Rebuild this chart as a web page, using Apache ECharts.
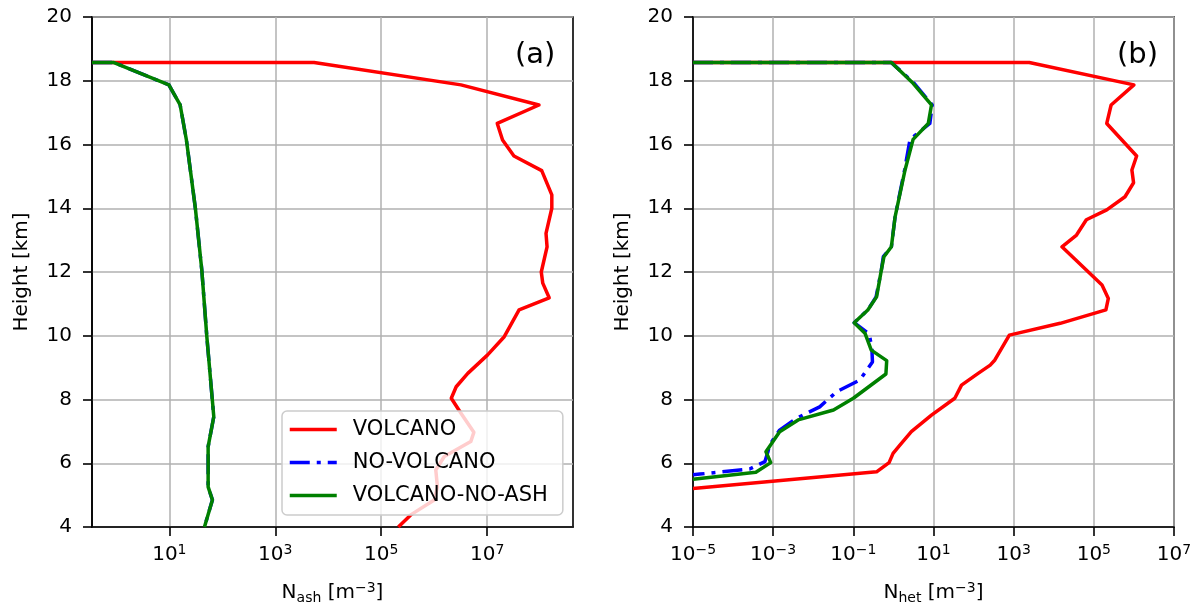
<!DOCTYPE html>
<html><head><meta charset="utf-8">
<script src="https://cdn.jsdelivr.net/npm/echarts@6/dist/echarts.min.js"></script>
<style>html,body{margin:0;padding:0;background:#fff}#c{width:1199px;height:610px}</style>
</head><body><div id="c"></div>
<script>
// ---- data (values in m^-3, heights in km); 0 = below the axis (clipped to the left edge)
const seriesNames = ['VOLCANO', 'NO-VOLCANO', 'VOLCANO-NO-ASH'];
const heightTicks = [4, 6, 8, 10, 12, 14, 16, 18, 20];
const xTickExpA = [1, 3, 5, 7];
const xTickExpB = [-5, -3, -1, 1, 3, 5, 7];

// Panel (a): N_ash
const aVolcanoH = [18.57, 18.57, 17.87, 17.24, 16.66, 16.14, 15.64, 15.18, 14.42, 14.0, 13.21, 12.79, 12.0, 11.65, 11.19, 10.81, 9.97, 9.40, 8.82, 8.40, 8.04, 7.57, 6.97, 6.68, 6.21, 5.79, 5.26, 4.85, 4.38, 4.0];
const aVolcanoX = [0, 5.4e3, 3.2e6, 9.5e7, 1.55e7, 1.95e7, 3.2e7, 1.07e8, 1.66e8, 1.66e8, 1.29e8, 1.35e8, 1.05e8, 1.12e8, 1.48e8, 4.0e7, 2.1e7, 1.02e7, 4.3e6, 2.6e6, 2.1e6, 3.2e6, 5.6e6, 4.9e6, 1.55e6, 1.07e6, 1.15e6, 1.0e6, 3.6e5, 2.1e5];
const aNoVolcanoH = [18.57, 18.57, 17.87, 17.24, 16.14, 14.0, 12.06, 9.97, 7.46, 6.52, 5.26, 4.85, 4.0];
const aNoVolcanoX = [0, 0.9, 9.8, 16, 21, 31, 41, 51, 69, 54, 54, 65, 46];
const aNoAshH = [18.57, 18.57, 17.87, 17.24, 16.14, 14.0, 12.06, 9.97, 7.46, 6.52, 5.26, 4.85, 4.0];
const aNoAshX = [0, 0.9, 9.8, 16, 21, 31, 41, 51, 69, 54, 54, 65, 46];

// Panel (b): N_het
const bVolcanoH = [18.57, 18.57, 17.87, 17.24, 16.66, 15.64, 15.20, 14.80, 14.36, 13.95, 13.64, 13.16, 12.79, 11.59, 11.17, 10.81, 10.39, 10.02, 9.24, 9.08, 8.82, 8.45, 8.04, 7.51, 6.99, 6.57, 6.31, 6.02, 5.73, 5.21];
const bVolcanoX = [0, 2.45e3, 1.0e6, 2.7e5, 2.1e5, 1.17e6, 8.9e5, 9.8e5, 6.0e5, 2.1e5, 6.5e4, 3.7e4, 1.6e4, 1.6e5, 2.3e5, 2.0e5, 1.45e4, 7.8e2, 3.4e2, 2.6e2, 1.3e2, 50, 34, 8.9, 2.8, 1.45, 0.98, 0.78, 0.38, 1e-5];
const bNoVolcanoH = [18.57, 18.57, 17.92, 17.24, 16.66, 16.16, 15.2, 13.73, 12.79, 12.48, 12.06, 11.22, 10.81, 10.41, 10.05, 9.6, 9.18, 8.61, 8.24, 7.77, 7.41, 7.04, 6.57, 6.36, 6.05, 5.82, 5.66, 5.64];
const bNoVolcanoX = [0, 0.89, 3.3, 9.3, 8.1, 2.6, 1.9, 1.1, 0.89, 0.56, 0.5, 0.37, 0.23, 0.105, 0.25, 0.29, 0.30, 0.145, 0.038, 0.0145, 3.8e-3, 1.45e-3, 8.1e-4, 7.4e-4, 6.2e-4, 2.6e-4, 1.5e-5, 1e-5];
const bNoAshH = [18.57, 18.57, 17.92, 17.24, 16.66, 16.16, 15.2, 13.73, 12.79, 12.48, 12.06, 11.22, 10.81, 10.41, 10.08, 9.55, 9.22, 8.80, 8.04, 7.67, 7.36, 6.99, 6.36, 6.02, 5.72, 5.50];
const bNoAshX = [0, 0.89, 3.1, 8.9, 7.4, 3.1, 1.95, 1.1, 0.89, 0.58, 0.5, 0.38, 0.23, 0.105, 0.195, 0.28, 0.68, 0.65, 0.1, 0.032, 4.2e-3, 1.45e-3, 6.6e-4, 8.7e-4, 3.7e-4, 1e-5];

// ---- chart
const FONT = 'DejaVu Sans';
const X_EXT = [[-0.46, 8.62], [-5, 7]];
const COLORS = {'VOLCANO': '#ff0000', 'NO-VOLCANO': '#0000ff', 'VOLCANO-NO-ASH': '#008000'};
const LTYPE = {'VOLCANO': 'solid', 'NO-VOLCANO': [20, 7, 4, 7], 'VOLCANO-NO-ASH': 'solid'};
const LW = 3.5;

function toPairs(xs, hs, panel) {
  return xs.map((v, i) => [v > 0 ? Math.log10(v) : X_EXT[panel][0], hs[i]]);
}
function expStr(v) { const n = Math.round(v); return n < 0 ? '\u2212' + (-n) : String(n); }

const tickRich = {
  b: {fontSize: 20, fontFamily: FONT, color: '#000', lineHeight: 24},
  s: {fontSize: 14, fontFamily: FONT, color: '#000', lineHeight: 14, verticalAlign: 'top'}
};
const nameRich = {
  n: {fontSize: 20, fontFamily: FONT, color: '#000', lineHeight: 24},
  sub: {fontSize: 14, fontFamily: FONT, color: '#000', lineHeight: 14, verticalAlign: 'bottom'},
  sup: {fontSize: 14, fontFamily: FONT, color: '#000', lineHeight: 14, verticalAlign: 'top'}
};

function xAxisCfg(panel, ticks, sub) {
  return {
    type: 'value', gridIndex: panel, min: X_EXT[panel][0], max: X_EXT[panel][1],
    axisLine: {show: true, onZero: false, lineStyle: {color: '#000', width: 1.6}},
    axisTick: {show: true, customValues: ticks, length: 9, lineStyle: {color: '#000', width: 1.6}},
    axisLabel: {customValues: ticks, margin: 16, formatter: v => '{b|10}{s|' + expStr(v) + '}', rich: tickRich},
    splitLine: {show: true, lineStyle: {color: '#b0b0b0', width: 1.5}},
    name: '{n|N}{sub|' + sub + '}{n| [m}{sup|\u22123}{n|]}', nameLocation: 'middle', nameGap: 54,
    nameTextStyle: {rich: nameRich}
  };
}
function yAxisCfg(panel) {
  return {
    type: 'value', gridIndex: panel, min: 4, max: 20, interval: 2,
    axisLine: {show: true, onZero: false, lineStyle: {color: '#000', width: 1.6}},
    axisTick: {show: true, length: 9, lineStyle: {color: '#000', width: 1.6}},
    axisLabel: {margin: 20, fontSize: 20, fontFamily: FONT, color: '#000',
      customValues: heightTicks, formatter: v => String(v)},
    splitLine: {show: true, lineStyle: {color: '#b0b0b0', width: 1.5}},
    name: 'Height [km]', nameLocation: 'middle', nameGap: 60,
    nameTextStyle: {fontSize: 20, fontFamily: FONT, color: '#000'}
  };
}
function lineSeries(name, panel, xs, hs) {
  return {
    name: name, type: 'line', xAxisIndex: panel, yAxisIndex: panel,
    data: toPairs(xs, hs, panel), symbol: 'none', showSymbol: false, clip: true,
    lineStyle: {color: COLORS[name], width: LW, type: LTYPE[name], cap: 'butt', join: 'round'},
    itemStyle: {color: COLORS[name]}, emphasis: {disabled: true}
  };
}

const option = {
  animation: false,
  backgroundColor: '#fff',
  title: [
    {text: '(a)', left: 515, top: 41, padding: 0, textStyle: {fontSize: 29, fontWeight: 'normal', fontFamily: FONT, color: '#000'}},
    {text: '(b)', left: 1117, top: 41, padding: 0, textStyle: {fontSize: 29, fontWeight: 'normal', fontFamily: FONT, color: '#000'}}
  ],
  grid: [
    {left: 92, top: 17, width: 481, height: 510, show: true, borderColor: '#000', borderWidth: 1.6, backgroundColor: 'transparent'},
    {left: 693, top: 17, width: 481, height: 510, show: true, borderColor: '#000', borderWidth: 1.6, backgroundColor: 'transparent'}
  ],
  xAxis: [xAxisCfg(0, xTickExpA, 'ash'), xAxisCfg(1, xTickExpB, 'het')],
  yAxis: [yAxisCfg(0), yAxisCfg(1)],
  legend: {
    data: seriesNames, orient: 'vertical', left: 282, top: 411,
    padding: [8, 15, 9, 6], itemWidth: 47, itemHeight: 21, itemGap: 12,
    backgroundColor: 'rgba(255,255,255,0.8)', borderColor: '#cccccc', borderWidth: 1.5, borderRadius: 5,
    itemStyle: {opacity: 0},
    lineStyle: {width: LW},
    formatter: n => '{t|' + n + '}',
    textStyle: {rich: {t: {fontSize: 21, fontFamily: FONT, color: '#000', lineHeight: 21, padding: [0, 0, 0, 11]}}},
    selectedMode: false
  },
  series: [
    lineSeries('VOLCANO', 0, aVolcanoX, aVolcanoH),
    lineSeries('NO-VOLCANO', 0, aNoVolcanoX, aNoVolcanoH),
    lineSeries('VOLCANO-NO-ASH', 0, aNoAshX, aNoAshH),
    lineSeries('VOLCANO', 1, bVolcanoX, bVolcanoH),
    lineSeries('NO-VOLCANO', 1, bNoVolcanoX, bNoVolcanoH),
    lineSeries('VOLCANO-NO-ASH', 1, bNoAshX, bNoAshH)
  ]
};
const chart = echarts.init(document.getElementById('c'), null, {renderer: 'canvas'});
chart.setOption(option);
</script>
</body></html>
